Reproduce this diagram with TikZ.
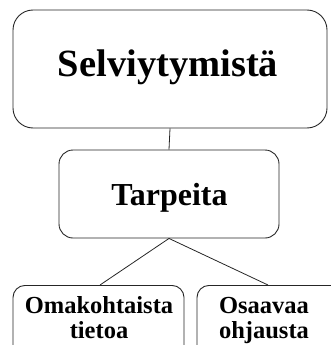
\documentclass[tikz,border=0pt]{standalone}
\usepackage{fontspec}
\setmainfont{Liberation Serif}
\begin{document}
\begin{tikzpicture}[x=1pt,y=-1pt,
  box/.style={draw=black!85, line width=0.9pt, rounded corners=#1, inner sep=0pt, align=center},
  box/.default=14pt,
  link/.style={draw=black!85, line width=0.8pt},
  leaftext/.style={font=\fontsize{24.5}{25}\selectfont\bfseries, align=center, anchor=base}]
  \useasboundingbox (0,0) rectangle (331,345);
  \clip (0,0) rectangle (331,345);
  % root
  \node[box=20pt, minimum width=314pt, minimum height=118pt,
        font=\fontsize{38.5}{40}\selectfont\bfseries] (root) at (170,69) {};
  \node[font=\fontsize{38.5}{40}\selectfont\bfseries, anchor=base] (roott) at (168,77) {Selviytymistä};
  % middle level
  \node[box=14pt, minimum width=220pt, minimum height=88pt] (needs) at (169,194) {};
  \node[font=\fontsize{32}{33}\selectfont\bfseries, anchor=base] (needst) at (169.5,205) {Tarpeita};
  % leaves (run past the lower edge)
  \node[box=12pt, minimum width=171pt, minimum height=80pt, anchor=north] (own) at (98.5,285) {};
  \node[box=12pt, minimum width=150pt, minimum height=80pt, anchor=north] (guide) at (272,285) {};
  \node[leaftext] (ownt) at (99,338) {Omakohtaista\\tietoa};
  \node[leaftext] (guidet) at (264,338) {Osaavaa\\ohjausta};
  % connectors
  \draw[link] (root.south) -- (needs.north);
  \draw[link] (needs.south) -- ([xshift=1.5pt]own.north);
  \draw[link] (needs.south) -- ([xshift=-4pt]guide.north);
\end{tikzpicture}
\end{document}
